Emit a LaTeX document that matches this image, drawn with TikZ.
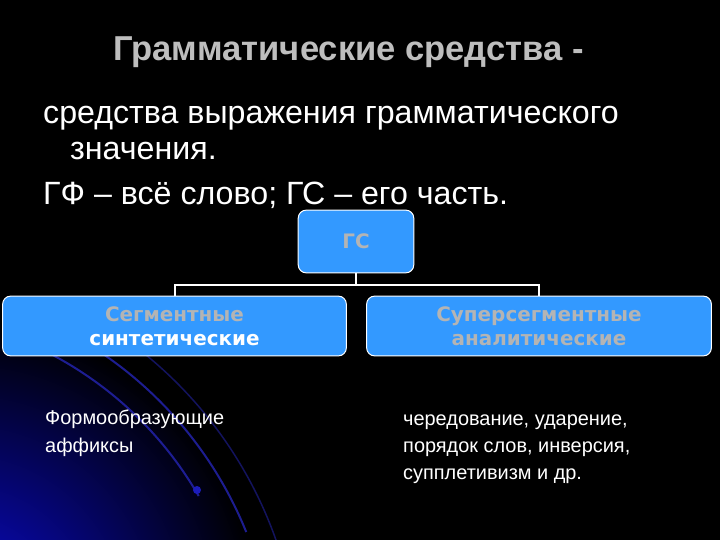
\documentclass[tikz,border=0pt]{standalone}
\usepackage{fontspec}
\setmainfont{Liberation Sans}
\newfontfamily\dv{DejaVu Sans}
\definecolor{boxblue}{RGB}{51,153,255}
\definecolor{titlegray}{RGB}{190,190,190}
\definecolor{boxgray}{RGB}{180,180,180}
\definecolor{glow}{RGB}{10,10,215}
\definecolor{arcblue}{RGB}{35,35,170}
\begin{document}
\begin{tikzpicture}[x=1bp,y=-1bp,
  bluebox/.style={draw=white, line width=1bp, fill=boxblue, rounded corners=8bp, inner sep=0pt, align=center},
  plain/.style={anchor=base west, inner sep=0pt, text=white},
  link/.style={draw=white, line width=2bp}]
\useasboundingbox (0,0) rectangle (720,540);
\fill[black] (0,0) rectangle (720,540);
\begin{scope}
\clip (0,0) rectangle (720,540);
\shade[inner color=glow, outer color=black] (-40,620) circle (300);
\draw[arcblue, line width=2bp, opacity=0.85] (-120,680) ++(-62:368) arc (-62:-30:368);
\draw[arcblue, line width=2bp, opacity=0.85] (-120,680) ++(-61:395) arc (-61:-22:395);
\draw[arcblue, line width=1.5bp, opacity=0.55] (-120,680) ++(-58:420) arc (-58:-18:420);
\fill[arcblue!80!blue] (197,490) circle (4);
\end{scope}
% texts
\node[plain, text=titlegray, font=\fontsize{34.7}{40}\selectfont\bfseries] (title) at (113,61) {Грамматические средства -};
\node[plain, font=\fontsize{32.3}{36}\selectfont] (l1) at (43,124) {средства выражения грамматического};
\node[plain, font=\fontsize{32.3}{36}\selectfont] (l2) at (70,160) {значения.};
\node[plain, font=\fontsize{32.3}{36}\selectfont] (l3) at (43,205) {ГФ – всё слово; ГС – его часть.};
% boxes
\node[bluebox, minimum width=116, minimum height=63, text=boxgray, font=\dv\bfseries\fontsize{20}{22}\selectfont] (gs) at (356,241.5) {ГС};
\node[bluebox, minimum width=345, minimum height=60, font=\dv\bfseries\fontsize{20}{24}\selectfont] (left) at (174.5,326) {\textcolor{boxgray}{Сегментные}\\\textcolor{white}{синтетические}};
\node[bluebox, minimum width=346, minimum height=60, text=boxgray, font=\dv\bfseries\fontsize{20}{24}\selectfont] (right) at (539,326) {Суперсегментные\\аналитические};
\draw[link] (gs.south) -- (gs.south |- 0,285) -| (left.north);
\draw[link] (gs.south |- 0,285) -| (right.north);
% lower texts
\node[plain, font=\fontsize{20}{22}\selectfont] (fa1) at (45,424) {Формообразующие};
\node[plain, font=\fontsize{20}{22}\selectfont] (fa2) at (45,452) {аффиксы};
\node[plain, font=\fontsize{20}{22}\selectfont] (r1) at (403,425) {чередование, ударение,};
\node[plain, font=\fontsize{20}{22}\selectfont] (r2) at (403,452) {порядок слов, инверсия,};
\node[plain, font=\fontsize{20}{22}\selectfont] (r3) at (403,479) {супплетивизм и др.};
\end{tikzpicture}
\end{document}
